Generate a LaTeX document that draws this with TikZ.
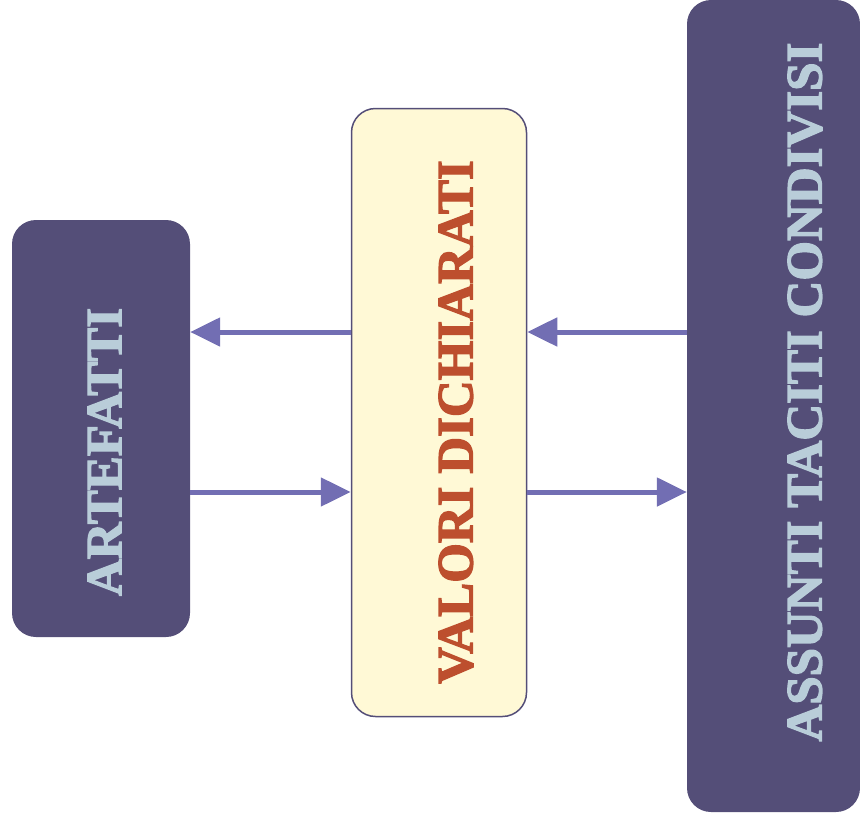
\documentclass[tikz,border=0pt]{standalone}
\usepackage{fontspec}
\setmainfont{Liberation Serif}[BoldFeatures={FakeBold=2.5}]
\usetikzlibrary{arrows.meta}

\definecolor{boxdark}{HTML}{544E78}
\definecolor{boxlight}{HTML}{FFF9D6}
\definecolor{txtlight}{HTML}{B9CDD9}
\definecolor{txtorange}{HTML}{BD4F2E}
\definecolor{flowcol}{HTML}{726EB3}

\begin{document}
\begin{tikzpicture}[x=1pt,y=-1pt,
                    flow/.style={-{Triangle[length=30pt,width=28pt]},line width=5pt,draw=flowcol}]
  \tikzstyle{darkbox}=[rectangle,rounded corners=24pt,fill=boxdark,draw=none,inner sep=0pt]
  \tikzstyle{lightbox}=[rectangle,rounded corners=24pt,fill=boxlight,draw=boxdark,line width=1.5pt,inner sep=0pt]
  \tikzstyle{boxtext}=[rotate=90,inner sep=0pt,font=\bfseries\fontsize{51}{60}\selectfont]

  \useasboundingbox (0,0) rectangle (860,825);

  \node[darkbox,minimum width=178pt,minimum height=417pt]  (art) at (101,428.5) {};
  \node[lightbox,minimum width=175pt,minimum height=608pt] (val) at (439,412.5) {};
  \node[darkbox,minimum width=173pt,minimum height=812pt]  (ass) at (773.5,406) {};

  \node[boxtext,text=txtlight]  (artT) at (104.5,452) {ARTEFATTI};
  \node[boxtext,text=txtorange] (valT) at (456,422)   {VALORI DICHIARATI};
  \node[boxtext,text=txtlight]  (assT) at (805,392)   {ASSUNTI TACITI CONDIVISI};

  \coordinate (up)   at (0,332);
  \coordinate (down) at (0,492);

  \draw[flow] (up -| val.west) -- (up -| art.east);
  \draw[flow] (up -| ass.west) -- (up -| val.east);
  \draw[flow] (down -| art.east) -- (down -| val.west);
  \draw[flow] (down -| val.east) -- (down -| ass.west);
\end{tikzpicture}
\end{document}
